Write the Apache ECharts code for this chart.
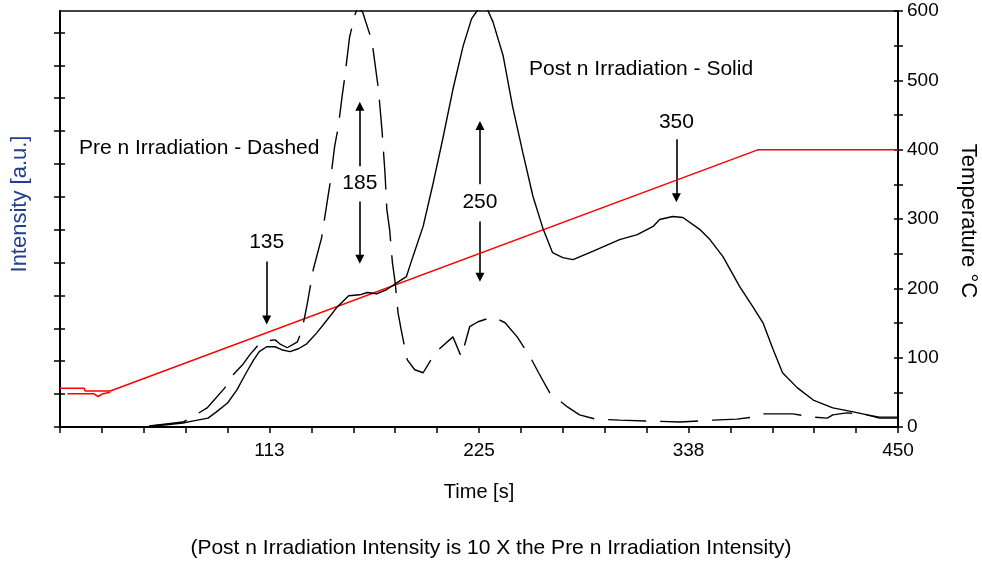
<!DOCTYPE html>
<html>
<head>
<meta charset="utf-8">
<script src="https://cdn.jsdelivr.net/npm/echarts@6/dist/echarts.min.js"></script>
<style>
html,body{margin:0;padding:0;background:#fff;}
#chart{width:982px;height:563px;}
</style>
</head>
<body>
<div id="chart"></div>
<script>
// ---- Data ----
const xLabelValues = [112.5, 225, 337.5, 450];

// Post n irradiation (solid), intensity [a.u.]
const solidTime = [48, 56, 66, 71, 79.5, 84, 90, 95, 100, 104, 107, 111, 115.5, 119, 123.5, 128, 132.5, 138, 143.5, 149, 155, 161, 165, 170, 175.5, 181, 186, 189.5, 195, 200, 205.5, 211, 216.5, 221, 224.5, 227, 229.5, 232.5, 238, 243, 248.5, 254, 259.5, 264.5, 270, 275.5, 286, 300.5, 310, 318.5, 322, 329, 334.5, 343.5, 349, 356, 365, 372, 377.5, 383, 388, 396, 404.5, 415, 426, 433.5, 440, 449.5];
const solidIntensity = [0.03, 0.06, 0.12, 0.18, 0.27, 0.46, 0.73, 1.13, 1.65, 2.04, 2.29, 2.44, 2.44, 2.35, 2.29, 2.38, 2.53, 2.87, 3.26, 3.66, 3.99, 4.02, 4.09, 4.05, 4.18, 4.39, 4.57, 5.18, 6.10, 7.32, 8.75, 10.27, 11.59, 12.41, 12.7, 12.8, 12.7, 12.32, 11.28, 9.76, 8.35, 7.01, 6.01, 5.30, 5.15, 5.09, 5.34, 5.70, 5.85, 6.10, 6.31, 6.40, 6.37, 6.01, 5.70, 5.18, 4.27, 3.66, 3.17, 2.35, 1.65, 1.19, 0.82, 0.58, 0.46, 0.37, 0.30, 0.30];

// Pre n irradiation (dashed), intensity [a.u.]
const dashedTime = [48, 66, 70, 79, 88.5, 93, 98, 102, 107.5, 111, 115.5, 118, 122, 127.5, 130, 132.5, 136, 140.5, 143.5, 145, 147.5, 149.5, 151.5, 153, 155.5, 158.5, 160, 162.5, 167.5, 171, 173, 174.5, 175.5, 177, 178.5, 180, 181.5, 183.5, 186.5, 190.5, 195, 201.5, 211, 215.5, 220, 224.5, 232.5, 239, 245.5, 252.5, 257, 263, 272.5, 279, 287.5, 300.5, 333, 350.5, 363.5, 372, 377.5, 393.5, 404.5, 412, 415, 422.5, 431, 440, 449.5];
const dashedIntensity = [0.03, 0.15, 0.27, 0.58, 1.19, 1.59, 1.89, 2.20, 2.56, 2.62, 2.65, 2.53, 2.41, 2.59, 2.96, 3.66, 4.79, 5.76, 6.86, 7.4, 8.54, 9.15, 10.06, 10.67, 11.86, 12.56, 12.75, 12.62, 11.74, 10.27, 8.96, 7.74, 6.62, 6.01, 5.00, 4.39, 3.48, 2.87, 2.04, 1.74, 1.65, 2.26, 2.74, 2.13, 3.05, 3.20, 3.35, 3.17, 2.74, 2.13, 1.65, 1.04, 0.61, 0.37, 0.24, 0.21, 0.15, 0.21, 0.24, 0.30, 0.40, 0.40, 0.30, 0.27, 0.37, 0.43, 0.40, 0.27, 0.27];

// Temperature ramp (°C)
const tempTime = [0, 13, 13.5, 27, 375, 450];
const tempValue = [56, 56, 52, 52, 400, 400];
const tempPreTime = [4, 18, 20.5, 23, 27];
const tempPreValue = [48, 48, 44, 48, 50];

// Annotations (peak temperatures)
const annoLabels = ['135', '185', '250', '350'];
const annoTime = [111, 161, 225.5, 331];
const annoLabelY = [5.61, 7.41, 6.83, 9.27];
const arrowTime = [111, 161, 161, 225.5, 225.5, 331];
const arrowFrom = [5.03, 7.93, 6.86, 7.38, 6.25, 8.75];
const arrowTo = [3.25, 9.75, 5.10, 9.17, 4.55, 6.97];

const intensityTicks = [0,1,2,3,4,5,6,7,8,9,10,11,12];

// ---- Chart ----
const FONT = 'Liberation Sans';
const TXT = '21px ' + FONT;
const chart = echarts.init(document.getElementById('chart'), null, {renderer: 'canvas'});
const zip = (a, b) => a.map((v, i) => [v, b[i]]);

const option = {
  backgroundColor: '#fff',
  animation: false,
  textStyle: {fontFamily: FONT},
  grid: {left: 60, right: 84, top: 11, bottom: 136, show: true, borderColor: '#444', borderWidth: 2, containLabel: false},
  xAxis: [{
    type: 'value', min: 0, max: 450, interval: 22.5,
    splitLine: {show: false},
    axisLine: {show: true, onZero: false, lineStyle: {color: '#000', width: 2}},
    axisTick: {show: true, length: 6, lineStyle: {color: '#000', width: 1.5}},
    axisLabel: {
      color: '#000', fontSize: 19, fontFamily: FONT, margin: 14,
      formatter: v => xLabelValues.some(x => Math.abs(x - v) < 1e-6) ? String(Math.round(v)) : ''
    },
    name: 'Time [s]', nameLocation: 'middle', nameGap: 55,
    nameTextStyle: {color: '#000', fontSize: 20, fontFamily: FONT}
  }],
  yAxis: [{
    type: 'value', min: 0, max: 12.65, position: 'left',
    splitLine: {show: false},
    axisLine: {show: true, onZero: false, lineStyle: {color: '#000', width: 2}},
    axisTick: {show: true, length: 6, customValues: intensityTicks, lineStyle: {color: '#000', width: 1.5}},
    axisLabel: {show: false}
  }, {
    type: 'value', min: 0, max: 600, interval: 50, position: 'right',
    splitLine: {show: false},
    axisLine: {show: true, onZero: false, lineStyle: {color: '#000', width: 2}},
    axisTick: {show: true, length: 5, lineStyle: {color: '#000', width: 1.5}},
    axisLabel: {color: '#000', fontSize: 19, fontFamily: FONT, margin: 9,
      formatter: v => (v % 100 === 0 ? String(v) : '')}
  }, {
    type: 'value', min: 0, max: 12.65, position: 'left',
    splitLine: {show: false}, axisLine: {show: false},
    axisTick: {show: true, inside: true, length: 5, customValues: intensityTicks, lineStyle: {color: '#000', width: 1.5}},
    axisLabel: {show: false}
  }, {
    type: 'value', min: 0, max: 600, interval: 50, position: 'right',
    splitLine: {show: false}, axisLine: {show: false},
    axisTick: {show: true, inside: true, length: 4, lineStyle: {color: '#000', width: 1.5}},
    axisLabel: {show: false}
  }],
  graphic: [
    {type: 'text', x: 20, y: 204, rotation: Math.PI / 2, silent: true,
      style: {text: 'Intensity [a.u.]', fill: '#233e8b', font: '22px ' + FONT, textAlign: 'center', textVerticalAlign: 'middle'}},
    {type: 'text', x: 968, y: 221, rotation: -Math.PI / 2, silent: true,
      style: {text: 'Temperature °C', fill: '#000', font: '22px ' + FONT, textAlign: 'center', textVerticalAlign: 'middle'}},
    {type: 'text', x: 79, y: 148, silent: true,
      style: {text: 'Pre n Irradiation - Dashed', fill: '#000', font: TXT, textAlign: 'left', textVerticalAlign: 'middle'}},
    {type: 'text', x: 529, y: 69, silent: true,
      style: {text: 'Post n Irradiation - Solid', fill: '#000', font: TXT, textAlign: 'left', textVerticalAlign: 'middle'}},
    {type: 'text', x: 491, y: 548, silent: true,
      style: {text: '(Post n Irradiation Intensity is 10 X the Pre n Irradiation Intensity)', fill: '#000', font: TXT, textAlign: 'center', textVerticalAlign: 'middle'}}
  ],
  series: [
    {name: 'Temperature', type: 'line', xAxisIndex: 0, yAxisIndex: 1, data: zip(tempTime, tempValue),
      symbol: 'none', silent: true, lineStyle: {color: '#ff0000', width: 1.5}},
    {name: 'Temperature (pre)', type: 'line', xAxisIndex: 0, yAxisIndex: 1, data: zip(tempPreTime, tempPreValue),
      symbol: 'none', silent: true, lineStyle: {color: '#ff0000', width: 1.5}},
    {name: 'Post n Irradiation', type: 'line', xAxisIndex: 0, yAxisIndex: 0, data: zip(solidTime, solidIntensity),
      symbol: 'none', silent: true, clip: true, lineStyle: {color: '#000', width: 1.4}},
    {name: 'Pre n Irradiation', type: 'line', xAxisIndex: 0, yAxisIndex: 0, data: zip(dashedTime, dashedIntensity),
      symbol: 'none', silent: true, clip: true, lineStyle: {color: '#000', width: 1.4, type: [38, 14]}},
    {name: 'Arrows', type: 'lines', coordinateSystem: 'cartesian2d', xAxisIndex: 0, yAxisIndex: 0,
      symbol: ['none', 'triangle'], symbolSize: 9, silent: true,
      lineStyle: {color: '#000', width: 1.6, opacity: 1, curveness: 0},
      data: arrowTime.map((t, i) => ({coords: [[t, arrowFrom[i]], [t, arrowTo[i]]]}))},
    {name: 'Peak labels', type: 'scatter', xAxisIndex: 0, yAxisIndex: 0, symbolSize: 0, silent: true,
      itemStyle: {color: '#000', opacity: 1},
      data: annoTime.map((t, i) => ({name: annoLabels[i], value: [t, annoLabelY[i]]})),
      label: {show: true, position: 'inside', formatter: p => p.name, color: '#000', opacity: 1, fontSize: 21, fontFamily: FONT,
        textBorderWidth: 0, textBorderColor: 'transparent'}}
  ]
};
chart.setOption(option);
</script>
</body>
</html>
